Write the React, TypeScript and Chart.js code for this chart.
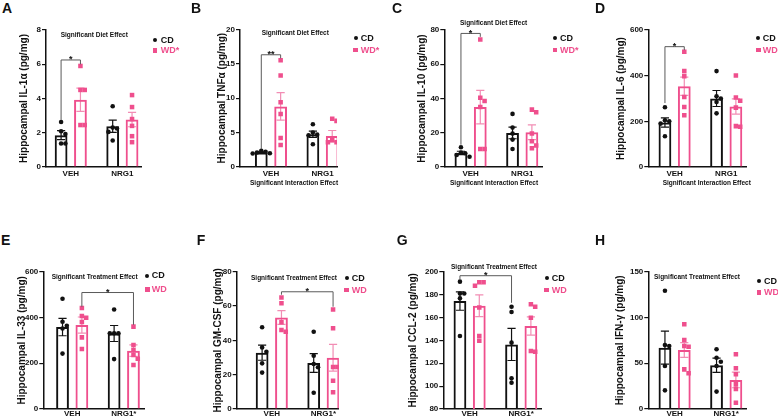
import React, { useEffect, useRef } from 'react';
import { Chart, registerables } from 'chart.js';
Chart.register(...registerables);

const BLACK = '#111111';
const PINK = '#EF4F8D';
const PINK_ERR = '#F28DB4';
const GRAY = '#5a5a5a';
const FONT = "'Liberation Sans', Arial, Helvetica, sans-serif";

// ---------- categories / labels ----------
const catsTop = ['VEH', 'NRG1'];
const catsBottom = ['VEH', 'NRG1*'];

// ---------- A: IL-1α ----------
const il1aCdMean = [1.86, 2.38];
const il1aCdSem = [0.26, 0.36];
const il1aWdMean = [3.93, 2.77];
const il1aWdSem = [0.68, 0.42];
const il1aCdVeh = [2.63, 2.09, 1.92, 1.37, 1.37];
const il1aCdNrg = [3.55, 2.3, 2.25, 2.05, 1.55];
const il1aWdVeh = [5.9, 4.5, 4.5, 2.45, 2.45];
const il1aWdNrg = [4.2, 3.5, 2.8, 2.4, 1.8, 1.45];
const il1aBracket = [6.25, 2.75, 6.0];

// ---------- B: TNFα ----------
const tnfCdMean = [2.12, 4.76];
const tnfCdSem = [0.08, 0.45];
const tnfWdMean = [8.8, 4.5];
const tnfWdSem = [2.0, 0.8];
const tnfCdVeh = [2.35, 2.2, 2.1, 2.0, 1.95];
const tnfCdNrg = [6.2, 5.0, 4.7, 4.6, 3.3];
const tnfWdVeh = [15.5, 13.3, 9.4, 7.7, 4.2, 3.2];
const tnfWdNrg = [7.0, 6.7, 3.9, 3.6, 3.6, 3.5];
const tnfBracket = [16.3, 2.6, 15.8];

// ---------- C: IL-10 ----------
const il10CdMean = [8.2, 19.9];
const il10CdSem = [1.0, 3.4];
const il10WdMean = [35, 20.3];
const il10WdSem = [9.8, 4.3];
const il10CdVeh = [11.5, 8.5, 8, 7, 6];
const il10CdNrg = [31, 23, 19.5, 16, 10.5];
const il10WdVeh = [74.5, 40.5, 38.5, 35, 10.5, 10.5];
const il10WdNrg = [33.5, 32, 19.5, 15, 12.5, 11];
const il10Bracket = [78, 13, 76];

// ---------- D: IL-6 ----------
const il6CdMean = [195, 300];
const il6CdSem = [20, 35];
const il6WdMean = [354, 265];
const il6WdSem = [40, 33];
const il6CdVeh = [262, 205, 200, 190, 135];
const il6CdNrg = [420, 310, 300, 285, 235];
const il6WdVeh = [505, 420, 398, 307, 263, 227];
const il6WdNrg = [401, 304, 290, 260, 179, 176];
const il6Bracket = [527, 280, 512];

// ---------- E: IL-33 ----------
const il33CdMean = [358, 330];
const il33CdSem = [38, 35];
const il33WdMean = [367, 255];
const il33WdSem = [35, 25];
const il33CdVeh = [482, 381, 364, 352, 242];
const il33CdNrg = [435, 331, 331, 331, 218];
const il33WdVeh = [441, 406, 399, 380, 313, 262];
const il33WdNrg = [360, 280, 258, 236, 220, 192];
const il33Bracket = [509, 447, 368];

// ---------- F: GM-CSF ----------
const gmCdMean = [32.8, 26.8];
const gmCdSem = [4.4, 5.5];
const gmWdMean = [53.3, 29.9];
const gmWdSem = [4.0, 7.8];
const gmCdVeh = [47.6, 35.9, 33.4, 26.6, 21.2];
const gmCdNrg = [45, 31, 26.2, 24.3, 9.5];
const gmWdVeh = [65, 61.6, 50.5, 46, 45];
const gmWdNrg = [58, 47, 24.5, 24.5, 16.5, 9.7];
const gmBracket = [68.3, 66.6, 59.6];

// ---------- G: CCL-2 ----------
const cclCdMean = [174.3, 136.4];
const cclCdSem = [8, 14];
const cclWdMean = [170.3, 152.5];
const cclWdSem = [9.5, 8];
const cclCdVeh = [191.3, 181, 181, 176.7, 143.8];
const cclCdNrg = [169.4, 164.8, 138, 106.8, 103];
const cclWdVeh = [190.7, 190.7, 187.8, 168.8, 143.8, 139.7];
const cclWdNrg = [171.5, 169.4, 159.8, 130.7, 130];
const cclBracket = [196.5, 193, 172.8];

// ---------- H: IFN-γ ----------
const ifnCdMean = [67, 47.8];
const ifnCdSem = [18, 7.8];
const ifnWdMean = [64.5, 31.7];
const ifnWdSem = [8, 8.5];
const ifnCdVeh = [129.2, 69.9, 68.8, 47, 20.4];
const ifnCdNrg = [65.2, 56, 51.7, 47, 19];
const ifnWdVeh = [92.5, 75.4, 68.8, 68, 43.3, 39];
const ifnWdNrg = [59.7, 44.4, 38, 27, 22, 6.9];

type Panel = {
  letter: string; yTitle: string; yMin: number; yMax: number; yStep: number;
  cats: string[]; wdLabel: string;
  cdMean: number[]; cdSem: number[]; wdMean: number[]; wdSem: number[];
  cdPts: number[][]; wdPts: number[][];
  bracket?: number[]; bracketFrom?: number[]; bracketTo?: number[]; bracketLabel?: string;
  topNote?: string; bottomNote?: string;
};

const panels: Panel[] = [
  { letter: 'A', yTitle: 'Hippocampal IL-1α (pg/mg)', yMin: 0, yMax: 8, yStep: 2, cats: catsTop, wdLabel: 'WD*',
    cdMean: il1aCdMean, cdSem: il1aCdSem, wdMean: il1aWdMean, wdSem: il1aWdSem,
    cdPts: [il1aCdVeh, il1aCdNrg], wdPts: [il1aWdVeh, il1aWdNrg],
    bracket: il1aBracket, bracketFrom: [0, 0], bracketTo: [0, 1], bracketLabel: '*',
    topNote: 'Significant Diet Effect' },
  { letter: 'B', yTitle: 'Hippocampal TNFα (pg/mg)', yMin: 0, yMax: 20, yStep: 5, cats: catsTop, wdLabel: 'WD*',
    cdMean: tnfCdMean, cdSem: tnfCdSem, wdMean: tnfWdMean, wdSem: tnfWdSem,
    cdPts: [tnfCdVeh, tnfCdNrg], wdPts: [tnfWdVeh, tnfWdNrg],
    bracket: tnfBracket, bracketFrom: [0, 0], bracketTo: [0, 1], bracketLabel: '**',
    topNote: 'Significant Diet Effect', bottomNote: 'Significant Interaction Effect' },
  { letter: 'C', yTitle: 'Hippocampal IL-10 (pg/mg)', yMin: 0, yMax: 80, yStep: 20, cats: catsTop, wdLabel: 'WD*',
    cdMean: il10CdMean, cdSem: il10CdSem, wdMean: il10WdMean, wdSem: il10WdSem,
    cdPts: [il10CdVeh, il10CdNrg], wdPts: [il10WdVeh, il10WdNrg],
    bracket: il10Bracket, bracketFrom: [0, 0], bracketTo: [0, 1], bracketLabel: '*',
    topNote: 'Significant Diet Effect', bottomNote: 'Significant Interaction Effect' },
  { letter: 'D', yTitle: 'Hippocampal IL-6 (pg/mg)', yMin: 0, yMax: 600, yStep: 200, cats: catsTop, wdLabel: 'WD',
    cdMean: il6CdMean, cdSem: il6CdSem, wdMean: il6WdMean, wdSem: il6WdSem,
    cdPts: [il6CdVeh, il6CdNrg], wdPts: [il6WdVeh, il6WdNrg],
    bracket: il6Bracket, bracketFrom: [0, 0], bracketTo: [0, 1], bracketLabel: '*',
    bottomNote: 'Significant Interaction Effect' },
  { letter: 'E', yTitle: 'Hippocampal IL-33 (pg/mg)', yMin: 0, yMax: 600, yStep: 200, cats: catsBottom, wdLabel: 'WD',
    cdMean: il33CdMean, cdSem: il33CdSem, wdMean: il33WdMean, wdSem: il33WdSem,
    cdPts: [il33CdVeh, il33CdNrg], wdPts: [il33WdVeh, il33WdNrg],
    bracket: il33Bracket, bracketFrom: [0, 1], bracketTo: [1, 1], bracketLabel: '*',
    topNote: 'Significant Treatment Effect' },
  { letter: 'F', yTitle: 'Hippocampal GM-CSF (pg/mg)', yMin: 0, yMax: 80, yStep: 20, cats: catsBottom, wdLabel: 'WD',
    cdMean: gmCdMean, cdSem: gmCdSem, wdMean: gmWdMean, wdSem: gmWdSem,
    cdPts: [gmCdVeh, gmCdNrg], wdPts: [gmWdVeh, gmWdNrg],
    bracket: gmBracket, bracketFrom: [0, 1], bracketTo: [1, 1], bracketLabel: '*',
    topNote: 'Significant Treatment Effect' },
  { letter: 'G', yTitle: 'Hippocampal CCL-2 (pg/mg)', yMin: 80, yMax: 200, yStep: 20, cats: catsBottom, wdLabel: 'WD',
    cdMean: cclCdMean, cdSem: cclCdSem, wdMean: cclWdMean, wdSem: cclWdSem,
    cdPts: [cclCdVeh, cclCdNrg], wdPts: [cclWdVeh, cclWdNrg],
    bracket: cclBracket, bracketFrom: [0, 0], bracketTo: [1, 0], bracketLabel: '*',
    topNote: 'Significant Treatment Effect' },
  { letter: 'H', yTitle: 'Hippocampal IFN-γ (pg/mg)', yMin: 0, yMax: 150, yStep: 50, cats: catsBottom, wdLabel: 'WD',
    cdMean: ifnCdMean, cdSem: ifnCdSem, wdMean: ifnWdMean, wdSem: ifnWdSem,
    cdPts: [ifnCdVeh, ifnCdNrg], wdPts: [ifnWdVeh, ifnWdNrg],
    topNote: 'Significant Treatment Effect' },
];

// ---------- layout (page coordinates) ----------
const UNIT = 51.6; // px between category centres
const CAT_PCT = 0.75;
const BAR_PCT = 0.66;

type Geo = {
  cx: number; cy: number; cb: number; L: number; T: number; B: number; xMin: number; xMax: number; labelPad: number;
  letter: [number, number]; note?: [number, number]; bnote?: [number, number];
  legend: [number, number, number, number];
};

const geos: Geo[] = [
  { cx: 14, cy: 17, cb: 192, L: 46, T: 30, B: 167, xMin: -0.48, xMax: 1.38, labelPad: 2,
    letter: [2, 3.3], note: [60.7, 35], legend: [155, 160.7, 40, 50.5] },
  { cx: 212, cy: 17, cb: 192, L: 240, T: 29.3, B: 167, xMin: -0.6, xMax: 1.28, labelPad: 2,
    letter: [191, 3.3], note: [261.7, 33], bnote: [250, 183.3], legend: [355.7, 360.7, 38.3, 50] },
  { cx: 412, cy: 17, cb: 192, L: 444.3, T: 30, B: 167, xMin: -0.51, xMax: 1.4, labelPad: 2,
    letter: [392, 3.3], note: [460, 22.7], bnote: [450, 182.7], legend: [555, 560, 38.3, 50] },
  { cx: 611, cy: 17, cb: 192, L: 648.3, T: 30, B: 167, xMin: -0.51, xMax: 1.4, labelPad: 2,
    letter: [595, 3.3], bnote: [662.7, 183.3], legend: [758.3, 762.7, 38.3, 50] },
  { cx: 12, cy: 258, cb: 418, L: 43.3, T: 271.7, B: 409, xMin: -0.56, xMax: 1.4, labelPad: 0,
    letter: [1, 235], note: [51.7, 276.7], legend: [147.3, 151.7, 275.7, 289.3] },
  { cx: 208, cy: 258, cb: 418, L: 236.7, T: 271.7, B: 409, xMin: -0.68, xMax: 1.3, labelPad: 0,
    letter: [196.7, 235], note: [251, 277.7], legend: [346.7, 351.7, 278.3, 290] },
  { cx: 403, cy: 258, cb: 418, L: 443.3, T: 271.7, B: 409, xMin: -0.51, xMax: 1.4, labelPad: 0,
    letter: [396.7, 235], note: [451, 267.3], legend: [546.7, 551.7, 278.3, 290] },
  { cx: 610, cy: 258, cb: 418, L: 648.3, T: 271.7, B: 409, xMin: -0.51, xMax: 1.4, labelPad: 0,
    letter: [595, 235], note: [654, 276.7], legend: [759, 764, 281, 292.3] },
];

// horizontal spreading of points (GraphPad-like scatter), computed not stored
function spread(values: number[], center: number, valPerPx: number, xPerPx: number) {
  const order = values.map((_, i) => i).sort((a, b) => values[b] - values[a]);
  const placed: { dx: number; py: number }[] = [];
  const out: { x: number; y: number }[] = new Array(values.length);
  const cands = [0, 1, -1, 2, -2, 3, -3];
  const step = 4.3;
  for (const i of order) {
    const py = values[i] / valPerPx;
    let chosen = 0;
    for (const c of cands) {
      const dx = c * step;
      if (placed.every((p) => Math.hypot(p.dx - dx, p.py - py) >= 4.3)) { chosen = dx; break; }
    }
    placed.push({ dx: chosen, py });
    out[i] = { x: center + chosen * xPerPx, y: values[i] };
  }
  return out;
}

function PanelChart({ p, g }: { p: Panel; g: Geo }) {
  const ref = useRef<HTMLCanvasElement>(null);
  const R = g.L + (g.xMax - g.xMin) * UNIT;
  const cw = Math.ceil(R - g.cx + 8);
  const ch = g.cb - g.cy;

  useEffect(() => {
    const valPerPx = (p.yMax - p.yMin) / (g.B - g.T);
    const xPerPx = 1 / UNIT;
    const off = CAT_PCT / 4;
    const cdScatter = p.cdPts.flatMap((vals, ci) => spread(vals, ci - off, valPerPx, xPerPx));
    const wdScatter = p.wdPts.flatMap((vals, ci) => spread(vals, ci + off, valPerPx, xPerPx));

    const overlay = {
      id: 'overlay' + p.letter,
      beforeDatasetsDraw(chart: any) {
        const ctx = chart.ctx;
        const ys = chart.scales.y;
        const groups: [number, number[], number[], string][] = [
          [0, p.cdMean, p.cdSem, BLACK],
          [1, p.wdMean, p.wdSem, PINK_ERR],
        ];
        ctx.save();
        for (const [di, means, sems, color] of groups) {
          const meta = chart.getDatasetMeta(di);
          meta.data.forEach((bar: any, i: number) => {
            const x = bar.x;
            const hw = bar.width * 0.32;
            const yt = ys.getPixelForValue(means[i] + sems[i]);
            const yb = ys.getPixelForValue(Math.max(means[i] - sems[i], p.yMin));
            ctx.strokeStyle = color;
            ctx.lineWidth = 1.2;
            ctx.beginPath();
            ctx.moveTo(x, yt); ctx.lineTo(x, yb);
            ctx.moveTo(x - hw, yt); ctx.lineTo(x + hw, yt);
            ctx.moveTo(x - hw, yb); ctx.lineTo(x + hw, yb);
            ctx.stroke();
          });
        }
        ctx.restore();
      },
      afterDatasetsDraw(chart: any) {
        if (!p.bracket || !p.bracketFrom || !p.bracketTo) return;
        const ctx = chart.ctx;
        const ys = chart.scales.y;
        const [yv, yl, yr] = p.bracket;
        const x1 = chart.getDatasetMeta(p.bracketFrom[1]).data[p.bracketFrom[0]].x;
        const x2 = chart.getDatasetMeta(p.bracketTo[1]).data[p.bracketTo[0]].x;
        const py = ys.getPixelForValue(yv);
        ctx.save();
        ctx.strokeStyle = GRAY;
        ctx.lineWidth = 1;
        ctx.beginPath();
        ctx.moveTo(x1, ys.getPixelForValue(yl));
        ctx.lineTo(x1, py);
        ctx.lineTo(x2, py);
        ctx.lineTo(x2, ys.getPixelForValue(yr));
        ctx.stroke();
        ctx.fillStyle = BLACK;
        ctx.font = `bold 9px ${FONT}`;
        ctx.textAlign = 'center';
        ctx.textBaseline = 'alphabetic';
        ctx.fillText(p.bracketLabel || '*', (x1 + x2) / 2, py + 2.5);
        ctx.restore();
      },
    };

    const tickFont = { family: FONT, size: 8, weight: 'bold' as const };
    const chart = new Chart(ref.current as HTMLCanvasElement, {
      type: 'bar',
      data: {
        datasets: [
          { type: 'bar', label: 'CD', data: p.cdMean.map((v, i) => ({ x: i, y: v })), borderColor: BLACK,
            backgroundColor: 'rgba(0,0,0,0)', borderWidth: 2, order: 2, categoryPercentage: CAT_PCT, barPercentage: BAR_PCT } as any,
          { type: 'bar', label: 'WD', data: p.wdMean.map((v, i) => ({ x: i, y: v })), borderColor: PINK,
            backgroundColor: 'rgba(0,0,0,0)', borderWidth: 2, order: 2, categoryPercentage: CAT_PCT, barPercentage: BAR_PCT } as any,
          { type: 'scatter', label: 'CD points', data: cdScatter, pointStyle: 'circle', pointRadius: 2.3,
            backgroundColor: BLACK, borderWidth: 0, order: 1 } as any,
          { type: 'scatter', label: 'WD points', data: wdScatter, pointStyle: 'rect', pointRadius: 3.2,
            backgroundColor: PINK, borderWidth: 0, order: 1 } as any,
        ],
      },
      options: {
        responsive: false,
        animation: false,
        devicePixelRatio: 1,
        events: [],
        layout: {
          autoPadding: false,
          padding: { left: 0, top: g.T - g.cy, right: cw - (R - g.cx), bottom: 0 },
        },
        plugins: { legend: { display: false }, tooltip: { enabled: false }, title: { display: false } },
        scales: {
          x: {
            type: 'linear', min: g.xMin, max: g.xMax, bounds: 'data', offset: false,
            afterBuildTicks: (s: any) => { s.ticks = p.cats.map((_, i) => ({ value: i })); },
            afterFit: (s: any) => { s.height = ch - (g.B - g.cy); },
            grid: { display: false, offset: false, drawTicks: false, tickLength: 0 },
            border: { display: true, color: BLACK, width: 1.5 },
            ticks: { callback: (_v: any, i: number) => p.cats[i], font: tickFont, color: BLACK,
              padding: g.labelPad, maxRotation: 0, autoSkip: false },
          },
          y: {
            type: 'linear', min: p.yMin, max: p.yMax, bounds: 'data',
            afterFit: (s: any) => { s.width = g.L - g.cx; },
            grid: { display: true, drawOnChartArea: false, drawTicks: true, tickLength: 4, color: BLACK, lineWidth: 1.2 },
            border: { display: true, color: BLACK, width: 1.5 },
            ticks: { stepSize: p.yStep, font: tickFont, color: BLACK, padding: 1 },
            title: { display: true, text: p.yTitle, color: BLACK, font: { family: FONT, size: 10, weight: 'bold' },
              padding: { top: 4, bottom: 0 } },
          },
        },
      } as any,
      plugins: [overlay],
    });
    return () => chart.destroy();
  }, []);

  return (
    <canvas ref={ref} width={cw} height={ch}
      style={{ position: 'absolute', left: g.cx, top: g.cy, width: cw, height: ch }} />
  );
}

function Txt({ x, y, size, color = BLACK, children }: { x: number; y: number; size: number; color?: string; children: any }) {
  return (
    <div style={{ position: 'absolute', left: x, top: y - 0.49 * size, fontSize: size, lineHeight: 1, color,
      fontFamily: FONT, fontWeight: 700, whiteSpace: 'nowrap', zIndex: 2 }}>{children}</div>
  );
}

function PanelText({ p, g }: { p: Panel; g: Geo }) {
  const [bx, tx, y1, y2] = g.legend;
  return (
    <>
      <div style={{ position: 'absolute', left: g.letter[0], top: g.letter[1] - 0.13 * 14, fontSize: 14, lineHeight: 1,
        fontFamily: FONT, fontWeight: 700, color: BLACK }}>{p.letter}</div>
      {p.topNote && g.note && <Txt x={g.note[0]} y={g.note[1]} size={6.5}>{p.topNote}</Txt>}
      {p.bottomNote && g.bnote && <Txt x={g.bnote[0]} y={g.bnote[1]} size={6.5}>{p.bottomNote}</Txt>}
      <div style={{ position: 'absolute', left: bx - 2.1, top: y1 - 2.1, width: 4.2, height: 4.2, borderRadius: '50%', background: BLACK }} />
      <Txt x={tx} y={y1} size={9}>CD</Txt>
      <div style={{ position: 'absolute', left: bx - 2.3, top: y2 - 2.3, width: 4.6, height: 4.6, background: PINK }} />
      <Txt x={tx} y={y2} size={9} color={PINK}>{p.wdLabel}</Txt>
    </>
  );
}

export default function App() {
  return (
    <div style={{ position: 'fixed', left: 0, top: 0, width: 778, height: 418, background: '#fff', overflow: 'hidden' }}>
      {panels.map((p, i) => <PanelChart key={'c' + p.letter} p={p} g={geos[i]} />)}
      {panels.map((p, i) => <PanelText key={'t' + p.letter} p={p} g={geos[i]} />)}
    </div>
  );
}
